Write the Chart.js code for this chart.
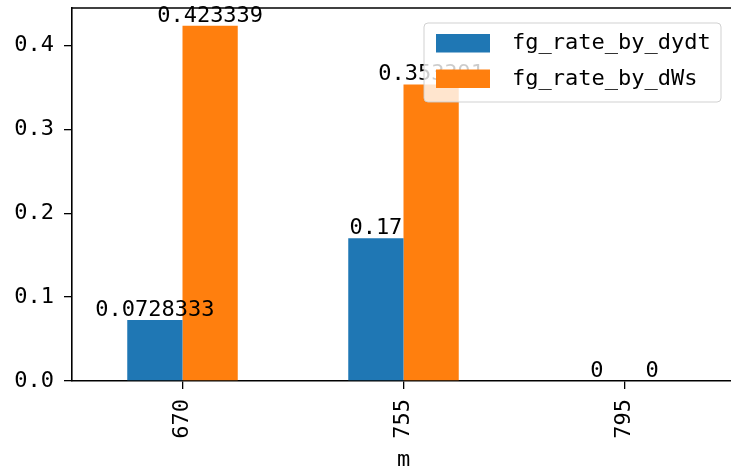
<!DOCTYPE html>
<html>
<head>
<meta charset="utf-8">
<script src="https://cdn.jsdelivr.net/npm/chart.js@4"></script>
<style>
  html, body { margin: 0; padding: 0; background: #fff; overflow: hidden; }
  canvas { display: block; }
</style>
</head>
<body>
<canvas id="chart" width="740" height="473"></canvas>
<script>
// data
const categories = ["670", "755", "795"]
const dydt = [0.0728333, 0.17, 0]
const dWs = [0.423339, 0.353391, 0]
const yTicks = [0, 0.1, 0.2, 0.3, 0.4]
const seriesNames = ["fg_rate_by_dydt", "fg_rate_by_dWs"]
const colors = ["#1f77b4", "#ff7f0e"]

const FONT = { family: "'DejaVu Sans Mono', monospace", size: 22 }

// value labels above each bar
const barLabels = {
    id: "barLabels",
    afterDatasetsDraw(chart) {
        const ctx = chart.ctx
        ctx.save()
        ctx.font = `${FONT.size}px ${FONT.family}`
        ctx.fillStyle = "#000"
        ctx.textAlign = "center"
        ctx.textBaseline = "alphabetic"
        chart.data.datasets.forEach((ds, i) => {
            chart.getDatasetMeta(i).data.forEach((bar, j) => {
                ctx.fillText(String(ds.data[j]), bar.x, bar.y - 4)
            })
        })
        ctx.restore()
    }
}

// top spine + matplotlib-like legend box drawn over the plot
const frameAndLegend = {
    id: "frameAndLegend",
    afterDraw(chart) {
        const ctx = chart.ctx
        const a = chart.chartArea
        ctx.save()
        ctx.strokeStyle = "#000"
        ctx.lineWidth = 1.6
        ctx.beginPath()
        ctx.moveTo(a.left, a.top)
        ctx.lineTo(a.right, a.top)
        ctx.stroke()

        // legend
        const bx = 424, by = 23, bw = 297, bh = 79
        ctx.beginPath()
        ctx.roundRect(bx, by, bw, bh, 4)
        ctx.fillStyle = "rgba(255,255,255,0.8)"
        ctx.fill()
        ctx.strokeStyle = "rgba(204,204,204,0.9)"
        ctx.lineWidth = 1
        ctx.stroke()

        ctx.font = `${FONT.size}px ${FONT.family}`
        ctx.textBaseline = "middle"
        ctx.textAlign = "left"
        chart.data.datasets.forEach((ds, i) => {
            const y = by + 11 + i * 35.5
            ctx.fillStyle = ds.backgroundColor
            ctx.fillRect(bx + 12, y, 54, 18.5)
            ctx.fillStyle = "#000"
            ctx.fillText(ds.label, bx + 88, y + 9.5)
        })
        ctx.restore()
    }
}

new Chart(document.getElementById("chart"), {
    type: "bar",
    data: {
        labels: categories,
        datasets: [
            { label: seriesNames[0], data: dydt, backgroundColor: colors[0] },
            { label: seriesNames[1], data: dWs, backgroundColor: colors[1] }
        ]
    },
    options: {
        responsive: false,
        animation: false,
        devicePixelRatio: 1,
        layout: { padding: { top: 8, right: 5, left: 0, bottom: 0 } },
        datasets: { bar: { barPercentage: 1, categoryPercentage: 0.5 } },
        plugins: { legend: { display: false }, tooltip: { enabled: false } },
        scales: {
            x: {
                offset: true,
                afterFit: s => { s.height = 92; s.paddingLeft = 0; s.paddingRight = 0 },
                grid: { drawOnChartArea: false, drawTicks: true, tickLength: 8, color: "#000", lineWidth: 1.3, offset: false },
                border: { display: true, color: "#000", width: 1.6 },
                ticks: { color: "#000", font: FONT, minRotation: 90, maxRotation: 90, padding: 10 },
                title: { display: true, text: "m", color: "#000", font: FONT, padding: { top: 0, bottom: 0 } }
            },
            y: {
                min: 0,
                max: 0.4445,
                afterFit: s => { s.width = 72; s.paddingTop = 0; s.paddingBottom = 0 },
                afterBuildTicks: s => { s.ticks = yTicks.map(v => ({ value: v })) },
                grid: { drawOnChartArea: false, drawTicks: true, tickLength: 8, color: "#000", lineWidth: 1.3 },
                border: { display: true, color: "#000", width: 1.6 },
                ticks: { color: "#000", font: FONT, padding: 10, callback: v => v.toFixed(1) }
            }
        }
    },
    plugins: [barLabels, frameAndLegend]
})
</script>
</body>
</html>
